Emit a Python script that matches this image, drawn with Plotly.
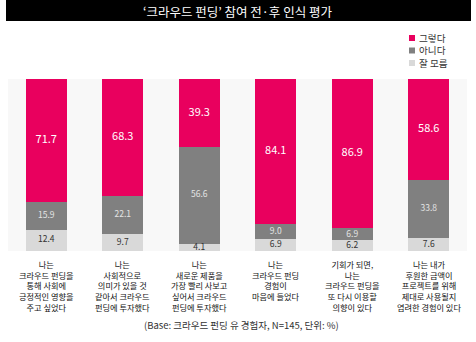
import plotly.graph_objects as go

categories = [
    "나는<br>크라우드 펀딩을<br>통해 사회에<br>긍정적인 영향을<br>주고 싶었다",
    "나는<br>사회적으로<br>의미가 있을 것<br>같아서 크라우드<br>펀딩에 투자했다",
    "나는<br>새로운 제품을<br>가장 빨리 사보고<br>싶어서 크라우드<br>펀딩에 투자했다",
    "나는<br>크라우드 펀딩<br>경험이<br>마음에 들었다",
    "기회가 되면,<br>나는<br>크라우드 펀딩을<br>또 다시 이용할<br>의향이 있다",
    "나는 내가<br>후원한 금액이<br>프로젝트를 위해<br>제대로 사용될지<br>염려한 경험이 있다",
]
series_names = ["그렇다", "아니다", "잘 모름"]
yes = [71.7, 68.3, 39.3, 84.1, 86.9, 58.6]
no = [15.9, 22.1, 56.6, 9.0, 6.9, 33.8]
dunno = [12.4, 9.7, 4.1, 6.9, 6.2, 7.6]
title_text = "‘크라우드 펀딩’ 참여 전·후 인식 평가"
footer_text = "(Base: 크라우드 펀딩 유 경험자, N=145, 단위: %)"

PINK = "#e9005e"
DARK = "#808080"
LIGHT = "#d9d9d9"
FONT = "Noto Sans CJK KR"
W, H = 476, 342
ML, MR, MT, MB = 8, 9, 79, 91
pw = W - ML - MR
ph = H - MT - MB


def px_x(px):
    return (px - ML) / pw


def px_y(py):
    return (H - MB - py) / ph


fig = go.Figure()
for name, vals, col in [(series_names[2], dunno, LIGHT), (series_names[1], no, DARK), (series_names[0], yes, PINK)]:
    fig.add_trace(go.Bar(x=categories, y=vals, name=name, marker=dict(color=col, line=dict(width=0)),
                         showlegend=False, hoverinfo="skip"))

# value labels at segment midpoints
mid_d = [d / 2 for d in dunno]
mid_n = [d + n / 2 for d, n in zip(dunno, no)]
mid_y = [d + n + y / 2 for d, n, y in zip(dunno, no, yes)]
for mids, vals, col, size in [
    (mid_d, dunno, "#333333", 8.5),
    (mid_n, no, "#e4e4e4", 8.5),
    (mid_y, yes, "#ffffff", 11),
]:
    fig.add_trace(go.Scatter(x=categories, y=mids, mode="text", text=[f"{v:.1f}" for v in vals],
                             textfont=dict(color=col, size=size, family=FONT), showlegend=False,
                             hoverinfo="skip", cliponaxis=False))

shapes = [
    dict(type="rect", xref="paper", yref="paper", x0=px_x(6), x1=px_x(471), y0=px_y(21), y1=px_y(0),
         fillcolor="#000000", line=dict(width=0), layer="above"),
]
annotations = [
    dict(text=title_text, xref="paper", yref="paper", x=px_x(238), y=px_y(11), xanchor="center",
         yanchor="middle", showarrow=False, font=dict(color="white", size=12.5, family=FONT)),
    dict(text=footer_text, xref="paper", yref="paper", x=px_x(242), y=px_y(325), xanchor="center",
         yanchor="middle", showarrow=False, font=dict(color="#333333", size=9.5, family=FONT)),
    dict(text="<br>".join(series_names), xref="paper", yref="paper", x=px_x(418), y=px_y(50.5),
         xanchor="left", yanchor="middle", align="left", showarrow=False, borderpad=0,
         font=dict(color="#333333", size=9.6, family=FONT)),
]
for i, col in enumerate([PINK, DARK, LIGHT]):
    cy = 38 + i * 12.5
    shapes.append(dict(type="rect", xref="paper", yref="paper", x0=px_x(409), x1=px_x(415),
                       y0=px_y(cy + 3), y1=px_y(cy - 3), fillcolor=col, line=dict(width=0)))

# category labels under the bars
for cat in categories:
    annotations.append(dict(text=cat, xref="x", yref="paper", x=cat, y=px_y(256.5),
                            xanchor="center", yanchor="top", showarrow=False, borderpad=0,
                            font=dict(color="#111111", size=8.2, family=FONT)))

fig.update_layout(
    width=W, height=H, margin=dict(l=ML, r=MR, t=MT, b=MB),
    barmode="stack", bargap=0.465,
    plot_bgcolor="#f8f8f8", paper_bgcolor="white",
    xaxis=dict(showgrid=False, zeroline=False, showline=False, ticks="", showticklabels=False),
    yaxis=dict(range=[0, 100], visible=False, fixedrange=True),
    shapes=shapes, annotations=annotations,
)
fig.write_html("out.html")
